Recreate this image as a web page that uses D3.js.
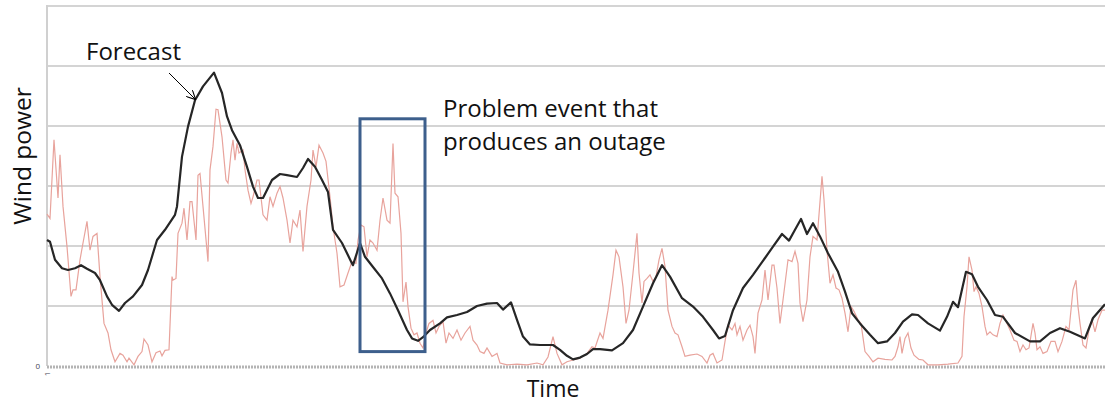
<!DOCTYPE html>
<html>
<head>
<meta charset="utf-8">
<style>
body { margin: 0; background: #fff; }
svg text { font-family: "Open Sans", sans-serif; fill: #111; }
.grid line { stroke: #d4d4d4; stroke-width: 2px; }
</style>
</head>
<body>
<div id="chart"></div>
<script src="https://d3js.org/d3.v7.min.js"></script>
<script>

var width = 1105;
var height = 406;

// time index (arbitrary units along the x axis) and wind power level
var forecast = [
  [0,2.10],[3,2.07],[8,1.77],[15,1.63],[21,1.60],[28,1.63],[34,1.68],[40,1.62],[48,1.55],[53,1.43],
  [60,1.16],[65,1.02],[72,0.92],[78,1.05],[86,1.16],[95,1.35],[101,1.60],[110,2.10],[118,2.27],[128,2.52],
  [130,2.66],[135,3.49],[141,3.99],[148,4.43],[156,4.66],[167,4.89],[175,4.55],[180,4.16],[185,3.93],[193,3.68],
  [200,3.32],[206,2.99],[211,2.80],[216,2.80],[225,3.10],[233,3.20],[240,3.18],[250,3.15],[256,3.30],[261,3.45],
  [268,3.32],[275,3.10],[281,2.90],[286,2.27],[295,2.05],[305,1.71],[306,1.68],[313,2.05],[318,1.82],[326,1.65],
  [335,1.46],[343,1.21],[351,0.93],[360,0.60],[365,0.46],[371,0.42],[376,0.48],[383,0.60],[393,0.71],[400,0.81],
  [410,0.85],[420,0.90],[430,1.00],[440,1.04],[450,1.05],[456,0.94],[464,1.06],[470,0.77],[476,0.49],[483,0.36],
  [493,0.35],[506,0.35],[513,0.27],[520,0.17],[526,0.11],[533,0.14],[540,0.20],[546,0.28],[553,0.28],[565,0.26],
  [576,0.38],[586,0.60],[596,0.99],[606,1.38],[615,1.68],[623,1.49],[635,1.13],[646,0.99],[656,0.82],[666,0.60],
  [672,0.46],[678,0.50],[686,0.93],[696,1.30],[706,1.52],[718,1.80],[726,1.99],[735,2.20],[742,2.09],[748,2.27],
  [754,2.45],[760,2.20],[766,2.38],[773,2.16],[781,1.88],[791,1.57],[798,1.24],[805,0.88],[813,0.71],[823,0.52],
  [831,0.38],[840,0.41],[848,0.55],[856,0.74],[865,0.86],[871,0.85],[881,0.71],[893,0.59],[900,0.82],[906,1.07],
  [911,0.98],[919,1.57],[925,1.53],[931,1.32],[940,1.10],[948,0.85],[956,0.82],[968,0.55],[983,0.41],[993,0.41],
  [1003,0.55],[1013,0.63],[1023,0.57],[1038,0.46],[1046,0.80],[1058,1.03]
];

var actual = [
  [0,2.53],[3,2.46],[7,3.77],[11,2.80],[13,3.52],[16,2.66],[20,1.99],[24,1.16],[26,1.27],[29,1.27],
  [33,1.77],[36,2.05],[40,2.41],[43,1.93],[46,2.16],[50,2.21],[53,1.49],[57,0.71],[61,0.55],[64,0.27],
  [68,0.07],[73,0.21],[76,0.18],[80,0.07],[82,0.13],[87,0.02],[91,0.16],[95,0.24],[97,0.45],[101,0.35],
  [105,0.07],[109,0.22],[113,0.25],[115,0.17],[118,0.26],[122,0.27],[125,1.49],[126,1.43],[129,1.46],[131,2.21],
  [135,2.38],[137,2.63],[140,2.10],[143,2.74],[145,2.74],[149,2.10],[151,3.18],[153,3.21],[156,2.66],[161,1.74],
  [163,3.27],[166,3.66],[169,4.28],[171,4.27],[175,3.82],[179,3.10],[181,3.05],[184,3.55],[186,3.77],[188,3.43],
  [190,3.71],[192,3.55],[196,3.60],[198,3.27],[201,2.93],[204,2.71],[206,2.82],[210,3.10],[212,3.10],[216,2.52],
  [220,2.43],[223,2.82],[226,2.66],[230,2.88],[233,2.99],[236,2.80],[240,2.43],[243,2.05],[246,2.43],[250,2.32],
  [253,2.60],[256,1.91],[260,2.66],[264,3.10],[266,3.60],[269,3.32],[272,3.68],[276,3.55],[279,3.41],[283,2.82],
  [286,2.32],[290,1.88],[293,1.32],[297,1.35],[301,1.55],[305,1.74],[309,1.71],[311,2.10],[314,2.35],[317,2.32],
  [320,1.82],[323,2.10],[326,2.05],[330,1.93],[333,2.43],[336,2.80],[340,2.43],[343,2.38],[346,3.71],[348,2.88],
  [351,2.82],[354,2.21],[356,1.07],[359,1.40],[361,0.99],[364,0.63],[367,0.52],[370,0.55],[373,0.38],[376,0.30],
  [379,0.55],[382,0.71],[386,0.76],[389,0.55],[392,0.66],[396,0.74],[399,0.38],[402,0.55],[406,0.46],[410,0.60],
  [414,0.43],[418,0.55],[423,0.66],[426,0.43],[430,0.35],[433,0.24],[437,0.21],[440,0.30],[445,0.16],[450,0.21],
  [453,0.05],[460,0.02],[470,0.03],[480,0.02],[490,0.05],[496,0.02],[501,0.15],[506,0.49],[510,0.21],[515,0.02],
  [520,0.07],[526,0.10],[533,0.13],[540,0.21],[545,0.32],[548,0.30],[553,0.55],[556,0.46],[561,0.93],[566,1.52],
  [569,1.93],[572,1.82],[576,1.32],[579,0.71],[582,0.93],[586,1.55],[590,2.21],[592,1.55],[595,1.05],[597,1.41],
  [600,1.46],[603,1.52],[606,1.41],[609,1.49],[612,1.77],[615,1.96],[618,1.66],[621,0.93],[625,0.66],[628,0.55],
  [631,0.52],[635,0.32],[638,0.16],[643,0.18],[650,0.20],[655,0.16],[660,0.05],[663,0.18],[666,0.21],[670,0.05],
  [675,0.10],[678,0.41],[681,0.68],[685,0.60],[688,0.71],[690,0.52],[693,0.66],[696,0.43],[700,0.60],[703,0.68],
  [706,0.49],[708,0.21],[711,0.88],[715,1.10],[718,1.60],[721,1.10],[725,1.68],[727,1.68],[730,1.30],[733,0.71],
  [736,1.10],[741,1.77],[745,1.74],[748,1.91],[751,1.71],[753,1.05],[756,0.74],[760,1.10],[763,1.82],[766,2.16],
  [770,2.10],[775,3.16],[777,2.77],[780,1.93],[783,1.38],[786,1.52],[789,1.30],[792,1.27],[795,1.13],[798,0.88],
  [801,0.57],[804,0.99],[807,0.91],[811,0.77],[814,0.71],[818,0.24],[822,0.16],[826,0.07],[831,0.13],[838,0.11],
  [845,0.10],[848,0.16],[851,0.32],[853,0.49],[855,0.21],[858,0.46],[861,0.55],[864,0.30],[867,0.18],[872,0.11],
  [876,0.10],[881,0.02],[891,0.02],[901,0.03],[911,0.05],[915,0.16],[917,0.82],[920,1.32],[922,1.82],[925,1.60],
  [927,1.24],[929,1.32],[932,1.21],[935,0.99],[938,0.66],[940,0.52],[943,0.57],[946,0.52],[950,0.49],[953,0.71],
  [956,0.85],[960,0.71],[963,0.60],[967,0.43],[970,0.41],[973,0.24],[976,0.35],[979,0.27],[982,0.30],[986,0.71],
  [988,0.55],[990,0.27],[993,0.32],[996,0.21],[1000,0.24],[1004,0.41],[1008,0.41],[1011,0.24],[1015,0.41],[1019,0.66],
  [1022,0.60],[1026,1.27],[1029,1.43],[1031,0.99],[1033,0.71],[1036,0.35],[1039,0.30],[1042,0.60],[1045,0.77],[1048,0.57],
  [1051,0.77],[1055,0.93],[1058,0.93]
];

var gridValues = [0, 1, 2, 3, 4, 5, 6];
var eventWindow = [313, 378];   // time span of the problem event
var eventLevels = [0.24, 4.12];

var svg = d3.select("#chart").append("svg")
    .attr("width", width)
    .attr("height", height);

var x = d3.scaleLinear().domain([0, 1058]).range([47, 1105]);
var y = d3.scaleLinear().domain([0, 6]).range([366, 6]);

// horizontal grid
svg.append("g")
    .attr("class", "grid")
    .selectAll("line")
    .data(gridValues.slice(1))
    .enter().append("line")
    .attr("x1", x(0))
    .attr("x2", x(1058))
    .attr("y1", function(d) { return y(d); })
    .attr("y2", function(d) { return y(d); });

// left axis line
svg.append("line")
    .attr("x1", x(0)).attr("x2", x(0))
    .attr("y1", y(6) - 1).attr("y2", y(0))
    .style("stroke", "#d0d0d0")
    .style("stroke-width", 2);

// bottom axis, lots of tiny ticks so it looks dotted
svg.append("line")
    .attr("x1", x(0)).attr("x2", x(1058))
    .attr("y1", y(0) + 1).attr("y2", y(0) + 1)
    .style("stroke", "#b4b4b4")
    .style("stroke-width", 3)
    .style("stroke-dasharray", "2,1");

svg.append("text")
    .attr("x", x(0) - 7)
    .attr("y", y(0) + 3)
    .attr("text-anchor", "end")
    .style("font-size", "8px")
    .style("fill", "#445")
    .text("0");

svg.append("text")
    .attr("transform", "translate(" + (x(0) + 3) + "," + (y(0) + 10) + ") rotate(-90)")
    .style("font-size", "7px")
    .style("fill", "#445")
    .text("1");

var line = d3.line()
    .x(function(d) { return x(d[0]); })
    .y(function(d) { return y(d[1]); });

svg.append("path")
    .datum(actual)
    .attr("d", line)
    .style("fill", "none")
    .style("stroke", "#e8a39c")
    .style("stroke-width", 1.2);

svg.append("path")
    .datum(forecast)
    .attr("d", line)
    .style("fill", "none")
    .style("stroke", "#262626")
    .style("stroke-width", 2.2)
    .style("stroke-linejoin", "round");

// problem event box
svg.append("rect")
    .attr("x", x(eventWindow[0]))
    .attr("y", y(eventLevels[1]))
    .attr("width", x(eventWindow[1]) - x(eventWindow[0]))
    .attr("height", y(eventLevels[0]) - y(eventLevels[1]))
    .style("fill", "none")
    .style("stroke", "#3d5f8c")
    .style("stroke-width", 3);

// labels
svg.append("text")
    .attr("transform", "translate(31,156) rotate(-90)")
    .attr("text-anchor", "middle")
    .style("font-size", "24.5px")
    .text("Wind power");

svg.append("text")
    .attr("x", 553)
    .attr("y", 397)
    .attr("text-anchor", "middle")
    .style("font-size", "23px")
    .text("Time");

svg.append("text")
    .attr("x", 86)
    .attr("y", 60)
    .style("font-size", "24px")
    .text("Forecast");

var note = svg.append("text")
    .attr("x", 443)
    .attr("y", 117)
    .style("font-size", "24px");
note.append("tspan").attr("x", 443).text("Problem event that");
note.append("tspan").attr("x", 443).attr("dy", 33).text("produces an outage");

// arrow pointing at the forecast line
svg.append("defs").append("marker")
    .attr("id", "head")
    .attr("viewBox", "0 0 10 10")
    .attr("refX", 9).attr("refY", 5)
    .attr("markerWidth", 9).attr("markerHeight", 9)
    .attr("markerUnits", "userSpaceOnUse")
    .attr("orient", "auto")
    .append("path")
    .attr("d", "M0,0 L10,5 L0,10")
    .style("fill", "none")
    .style("stroke", "#000")
    .style("stroke-width", 1.2);

svg.append("line")
    .attr("x1", 169).attr("y1", 73)
    .attr("x2", 195).attr("y2", 99)
    .style("stroke", "#000")
    .style("stroke-width", 1)
    .attr("marker-end", "url(#head)");

</script>
</body>
</html>
